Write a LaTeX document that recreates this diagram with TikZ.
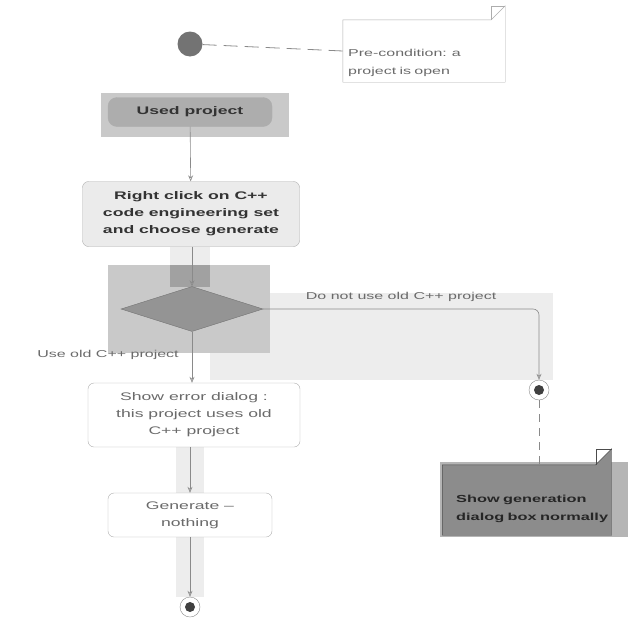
\documentclass[tikz,border=0pt]{standalone}
\usepackage{fontspec}
\setmainfont[FakeStretch=1.6]{Liberation Sans}
\usetikzlibrary{shapes.geometric,arrows.meta}
\definecolor{hl}{HTML}{C9C9C9}
\definecolor{hllight}{HTML}{EDEDED}
\definecolor{linec}{HTML}{8A8A8A}
\definecolor{txtc}{HTML}{6A6A6A}
\begin{document}
\begin{tikzpicture}[x=1pt,y=-1pt,
  act/.style={draw=linec!70,rounded corners=6pt,align=center,inner sep=2pt,
    font=\fontsize{11}{17}\selectfont,text=txtc,fill=white},
  boldact/.style={act,font=\bfseries\fontsize{11}{17}\selectfont,text=black!80},
  flow/.style={draw=linec,line width=0.6pt,-{Stealth[open,length=6pt,width=5pt]}},
  notebox/.style={draw=none,align=left,inner sep=0pt,text width=#1},
  endnode/.style={circle,draw=linec,fill=white,minimum size=20pt,inner sep=0pt},
  lbl/.style={font=\fontsize{10}{12}\selectfont,text=txtc,inner sep=1pt},
]
\useasboundingbox (0,0) rectangle (640,640);
% highlight rectangles
\fill[hllight] (210,293) rectangle (553,380);
\fill[hl] (101,93) rectangle (289,137);
\fill[hl] (108,265) rectangle (270,353);
\fill[hl!80!black] (170,265) rectangle (210,287);
\fill[hllight] (170,247) rectangle (210,265);
\fill[hllight] (176,447) rectangle (204,493);
\fill[hllight] (176,537) rectangle (204,597);
\fill[hl!90!black] (440,462) rectangle (628,537);

% start
\node[circle,fill=black!55,minimum size=25pt,inner sep=0pt] (start) at (190,44) {};
% note 1
\node[minimum width=162pt,minimum height=62pt,inner sep=0pt] (note1) at (424,51) {};
\draw[linec!70,fill=white] (note1.north west) -- ([xshift=-14pt]note1.north east) -- ([yshift=14pt]note1.north east) -- (note1.south east) -- (note1.south west) -- cycle;
\draw[linec!70] ([xshift=-14pt]note1.north east) |- ([yshift=14pt]note1.north east);
\node[notebox=150pt,lbl,anchor=north west,font=\fontsize{10}{18}\selectfont] (note1txt) at (347,48) {Pre-condition: a\\project is open};
\draw[linec,dashed,dash pattern=on 14pt off 7pt,line width=0.8pt] (start) -- (note1.west);

% activities
\node[boldact,fill=black!32,minimum width=164pt,minimum height=29pt,rounded corners=9pt] (used) at (190,112) {Used project};
\node[boldact,fill=black!8,minimum width=217pt,minimum height=65pt] (rclick) at (191,214) {Right click on C++\\code engineering set\\and choose generate};
\node[diamond,draw=black!55,fill=black!42,minimum width=142pt,minimum height=45pt,aspect=3.15,inner sep=0pt] (dec) at (192,309) {};
\node[endnode] (end1) at (539,390) {};
\fill[black!75] (end1.center) circle (5pt);
\node[act,minimum width=212pt,minimum height=64pt] (err) at (194,415) {Show error dialog :\\this project uses old\\C++ project};
\node[act,minimum width=164pt,minimum height=44pt] (gen) at (190,515) {Generate --\\nothing};
\node[endnode] (end2) at (190,607) {};
\fill[black!75] (end2.center) circle (5pt);

% note 2
\node[minimum width=169pt,minimum height=70pt,inner sep=0pt] (note2) at (527,500) {};
\draw[black!70,fill=black!45] (note2.north west) -- ([xshift=-16pt]note2.north east) -- ([yshift=16pt]note2.north east) -- (note2.south east) -- (note2.south west) -- cycle;
\draw[black!70] ([xshift=-16pt]note2.north east) |- ([yshift=16pt]note2.north east);
\node[notebox=165pt,anchor=north west,font=\bfseries\fontsize{10.2}{18}\selectfont,text=black!85] (note2txt) at (456,495) {Show generation\\dialog box normally};

% connectors
\draw[flow] (used) -- (rclick);
\draw[flow] (rclick.south -| dec.north) -- (dec.north);
\draw[flow,rounded corners=6pt] (dec.east) -| node[lbl,pos=0.25,above=6pt] {Do not use old C++ project} (end1.north);
\draw[flow] (dec.south) -- node[lbl,pos=0.45,left=12pt] {Use old C++ project} (dec.south |- err.north);
\draw[flow] (err.south -| gen.north) -- (gen.north);
\draw[flow] (gen) -- (end2);
\draw[linec,dashed,dash pattern=on 8pt off 6pt,line width=0.8pt] (end1) -- (end1 |- note2.north);
\end{tikzpicture}
\end{document}
